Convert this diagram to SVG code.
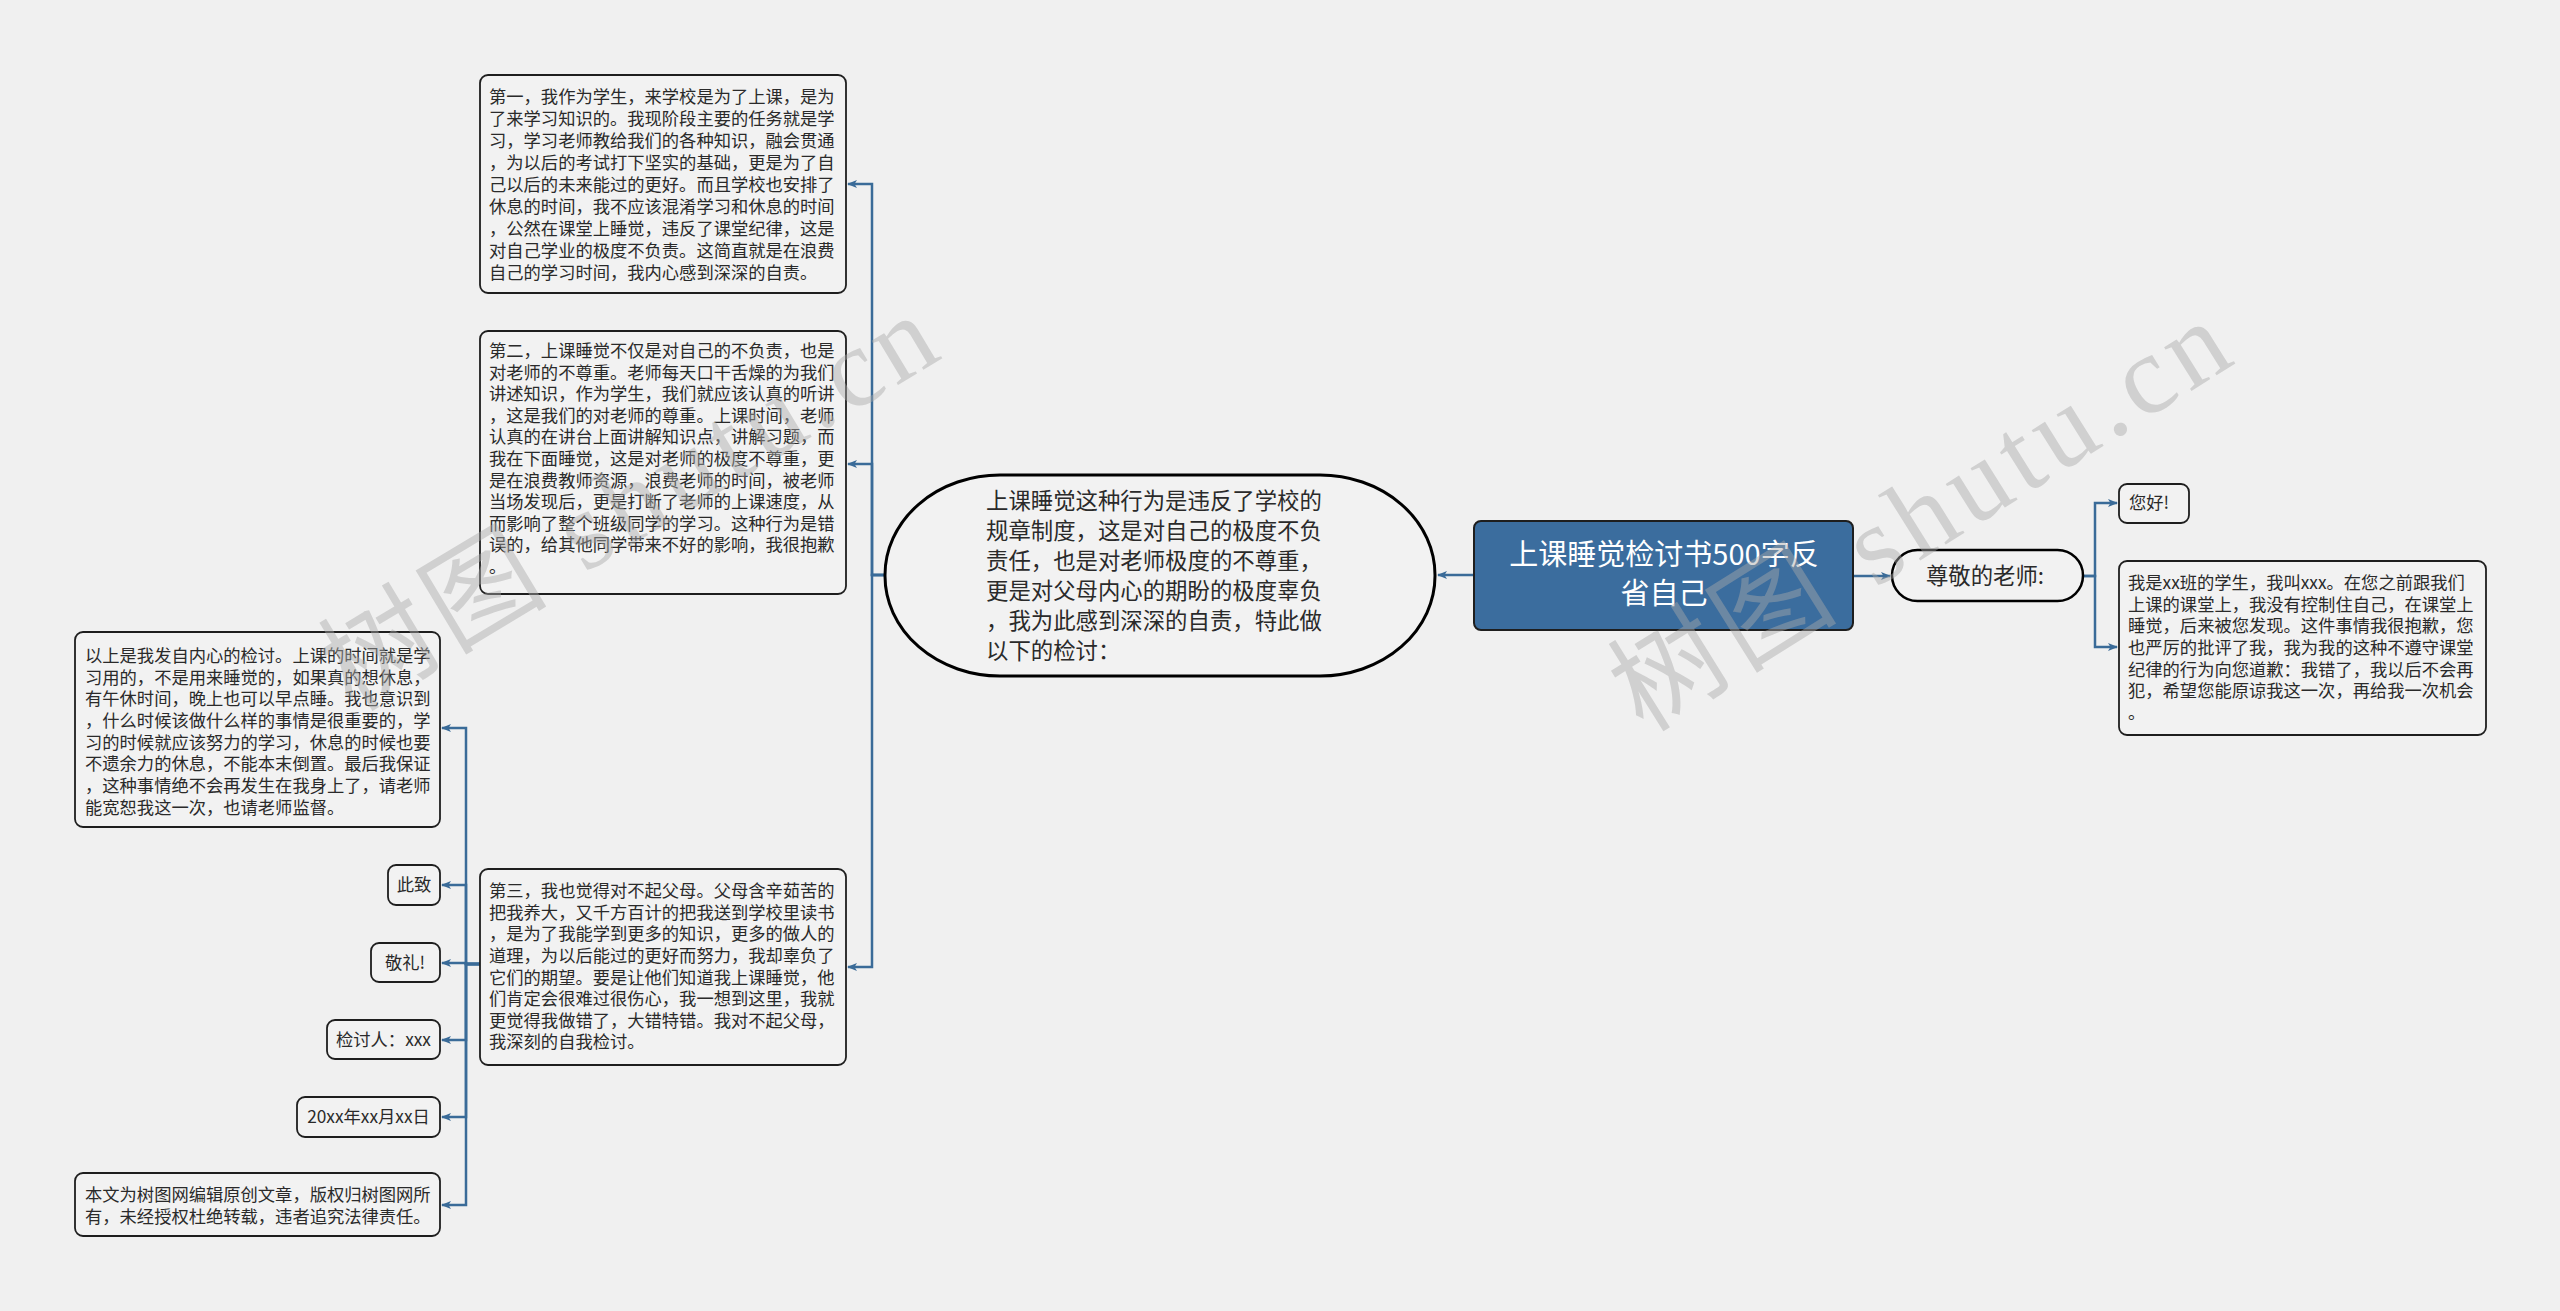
<svg xmlns="http://www.w3.org/2000/svg" width="2560" height="1311" viewBox="0 0 2560 1311">
<defs>
<marker id="arr" viewBox="0 0 10 10" refX="9" refY="5" markerWidth="10" markerHeight="10" markerUnits="userSpaceOnUse" orient="auto">
<path d="M0,1 L10,5 L0,9 L2.5,5 Z" fill="#3a6b98"/>
</marker>
<style>
.bg{fill:#f0f0f0}
.box{fill:#f2f2f2;stroke:#1e1e1e;stroke-width:1.8}
.root{fill:#3b6d9e;stroke:#1e1e1e;stroke-width:2}
.big{fill:#f2f2f2;stroke:#000;stroke-width:3}
.con{fill:none;stroke:#3a6b98;stroke-width:2.5}
text{font-family:"Noto Sans CJK SC","Noto Sans",sans-serif;fill:#2a2a2a}
.t17{font-size:17.3px}
.t22{font-size:22.4px}
.rt{font-size:29px;fill:#ffffff}
.wm{font-family:"Liberation Serif","Noto Sans CJK SC",serif;font-size:112px;fill:#a8a8a8;fill-opacity:0.45}
</style>
</defs>
<rect class="bg" x="0" y="0" width="2560" height="1311"/>

<g id="connectors">
<path class="con" d="M1474,575 H1438" marker-end="url(#arr)"/>
<path class="con" d="M1853,576 H1890" marker-end="url(#arr)"/>
<path class="con" d="M885,575 H872 V184 H848" marker-end="url(#arr)"/>
<path class="con" d="M885,575 H872 V464 H848" marker-end="url(#arr)"/>
<path class="con" d="M885,575 H872 V967 H848" marker-end="url(#arr)"/>
<path class="con" d="M480,964 H466 V728 H442" marker-end="url(#arr)"/>
<path class="con" d="M480,964 H466 V885 H442" marker-end="url(#arr)"/>
<path class="con" d="M480,964 H466 V963 H442" marker-end="url(#arr)"/>
<path class="con" d="M480,964 H466 V1040 H442" marker-end="url(#arr)"/>
<path class="con" d="M480,964 H466 V1117 H442" marker-end="url(#arr)"/>
<path class="con" d="M480,964 H466 V1205 H442" marker-end="url(#arr)"/>
<path class="con" d="M2083,576 H2095 V503 H2117" marker-end="url(#arr)"/>
<path class="con" d="M2083,576 H2095 V647 H2117" marker-end="url(#arr)"/>
</g>

<g id="root">
<rect class="root" x="1474" y="521" width="379" height="109" rx="7"/>
<text class="rt" text-anchor="middle"><tspan x="1664" y="565">上课睡觉检讨书500字反</tspan><tspan x="1664" y="604">省自己</tspan></text>
</g>

<g id="summary">
<rect class="big" x="885" y="475" width="550" height="201" rx="115" ry="100"/>
<text class="t22"><tspan x="986" y="509">上课睡觉这种行为是违反了学校的</tspan><tspan x="986" y="539">规章制度，这是对自己的极度不负</tspan><tspan x="986" y="569">责任，也是对老师极度的不尊重，</tspan><tspan x="986" y="599">更是对父母内心的期盼的极度辜负</tspan><tspan x="986" y="629">，我为此感到深深的自责，特此做</tspan><tspan x="986" y="659">以下的检讨：</tspan></text>
</g>

<g id="point1">
<rect class="box" x="480" y="75" width="366" height="218" rx="8"/>
<text class="t17"><tspan x="489" y="103">第一，我作为学生，来学校是为了上课，是为</tspan><tspan x="489" y="125">了来学习知识的。我现阶段主要的任务就是学</tspan><tspan x="489" y="147">习，学习老师教给我们的各种知识，融会贯通</tspan><tspan x="489" y="169">，为以后的考试打下坚实的基础，更是为了自</tspan><tspan x="489" y="191">己以后的未来能过的更好。而且学校也安排了</tspan><tspan x="489" y="213">休息的时间，我不应该混淆学习和休息的时间</tspan><tspan x="489" y="235">，公然在课堂上睡觉，违反了课堂纪律，这是</tspan><tspan x="489" y="257">对自己学业的极度不负责。这简直就是在浪费</tspan><tspan x="489" y="279">自己的学习时间，我内心感到深深的自责。</tspan></text>
</g>

<g id="point2">
<rect class="box" x="480" y="331" width="366" height="263" rx="8"/>
<text class="t17"><tspan x="489" y="357">第二，上课睡觉不仅是对自己的不负责，也是</tspan><tspan x="489" y="379">对老师的不尊重。老师每天口干舌燥的为我们</tspan><tspan x="489" y="400">讲述知识，作为学生，我们就应该认真的听讲</tspan><tspan x="489" y="422">，这是我们的对老师的尊重。上课时间，老师</tspan><tspan x="489" y="443">认真的在讲台上面讲解知识点，讲解习题，而</tspan><tspan x="489" y="465">我在下面睡觉，这是对老师的极度不尊重，更</tspan><tspan x="489" y="487">是在浪费教师资源，浪费老师的时间，被老师</tspan><tspan x="489" y="508">当场发现后，更是打断了老师的上课速度，从</tspan><tspan x="489" y="530">而影响了整个班级同学的学习。这种行为是错</tspan><tspan x="489" y="551">误的，给其他同学带来不好的影响，我很抱歉</tspan><tspan x="489" y="573">。</tspan></text>
</g>

<g id="point3">
<rect class="box" x="480" y="869" width="366" height="196" rx="8"/>
<text class="t17"><tspan x="489" y="897">第三，我也觉得对不起父母。父母含辛茹苦的</tspan><tspan x="489" y="919">把我养大，又千方百计的把我送到学校里读书</tspan><tspan x="489" y="940">，是为了我能学到更多的知识，更多的做人的</tspan><tspan x="489" y="962">道理，为以后能过的更好而努力，我却辜负了</tspan><tspan x="489" y="984">它们的期望。要是让他们知道我上课睡觉，他</tspan><tspan x="489" y="1005">们肯定会很难过很伤心，我一想到这里，我就</tspan><tspan x="489" y="1027">更觉得我做错了，大错特错。我对不起父母，</tspan><tspan x="489" y="1048">我深刻的自我检讨。</tspan></text>
</g>

<g id="conclusion">
<rect class="box" x="75" y="632" width="365" height="195" rx="8"/>
<text class="t17"><tspan x="85" y="662">以上是我发自内心的检讨。上课的时间就是学</tspan><tspan x="85" y="684">习用的，不是用来睡觉的，如果真的想休息，</tspan><tspan x="85" y="705">有午休时间，晚上也可以早点睡。我也意识到</tspan><tspan x="85" y="727">，什么时候该做什么样的事情是很重要的，学</tspan><tspan x="85" y="749">习的时候就应该努力的学习，休息的时候也要</tspan><tspan x="85" y="770">不遗余力的休息，不能本末倒置。最后我保证</tspan><tspan x="85" y="792">，这种事情绝不会再发生在我身上了，请老师</tspan><tspan x="85" y="814">能宽恕我这一次，也请老师监督。</tspan></text>
</g>

<g id="cizhi">
<rect class="box" x="388" y="865" width="52" height="40" rx="8"/>
<text class="t17" x="414" y="891" text-anchor="middle">此致</text>
</g>

<g id="jingli">
<rect class="box" x="371" y="943" width="69" height="39" rx="8"/>
<text class="t17" x="405" y="969" text-anchor="middle">敬礼!</text>
</g>

<g id="signer">
<rect class="box" x="327" y="1020" width="113" height="39" rx="8"/>
<text class="t17" x="383.5" y="1046" text-anchor="middle">检讨人：xxx</text>
</g>

<g id="date">
<rect class="box" x="297" y="1097" width="143" height="40" rx="8"/>
<text class="t17" x="368.5" y="1123" text-anchor="middle">20xx年xx月xx日</text>
</g>

<g id="copyright">
<rect class="box" x="75" y="1173" width="365" height="63" rx="8"/>
<text class="t17"><tspan x="85" y="1201">本文为树图网编辑原创文章，版权归树图网所</tspan><tspan x="85" y="1223">有，未经授权杜绝转载，违者追究法律责任。</tspan></text>
</g>

<g id="greeting">
<rect class="big" x="1892" y="550" width="191" height="51" rx="25.5" style="stroke-width:2.5"/>
<text class="t22" x="1985" y="584" text-anchor="middle">尊敬的老师:</text>
</g>

<g id="hello">
<rect class="box" x="2119" y="484" width="70" height="39" rx="8"/>
<text class="t17" x="2129" y="509">您好!</text>
</g>

<g id="intro">
<rect class="box" x="2119" y="561" width="367" height="174" rx="8"/>
<text class="t17"><tspan x="2128" y="589">我是xx班的学生，我叫xxx。在您之前跟我们</tspan><tspan x="2128" y="611">上课的课堂上，我没有控制住自己，在课堂上</tspan><tspan x="2128" y="632">睡觉，后来被您发现。这件事情我很抱歉，您</tspan><tspan x="2128" y="654">也严厉的批评了我，我为我的这种不遵守课堂</tspan><tspan x="2128" y="676">纪律的行为向您道歉：我错了，我以后不会再</tspan><tspan x="2128" y="697">犯，希望您能原谅我这一次，再给我一次机会</tspan><tspan x="2128" y="719">。</tspan></text>
</g>

<g id="watermarks">
<text class="wm" text-anchor="middle" transform="translate(648,535) rotate(-31)" textLength="690" lengthAdjust="spacing">树图 shutu.cn</text>
<text class="wm" text-anchor="middle" transform="translate(1940,548) rotate(-32)" textLength="700" lengthAdjust="spacing">树图 shutu.cn</text>
</g>
</svg>
